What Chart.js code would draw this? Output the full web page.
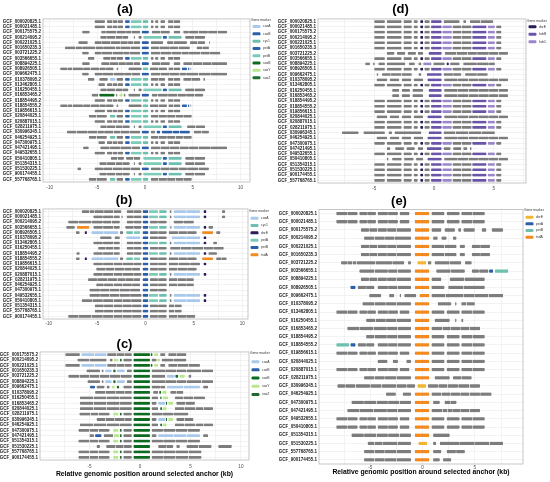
<!DOCTYPE html>
<html>
<head>
<meta charset="utf-8">
<script src="https://cdn.jsdelivr.net/npm/chart.js@4.4.1/dist/chart.umd.min.js"></script>
<style>
html,body{margin:0;padding:0;background:#fff;}
#wrap{position:relative;width:550px;height:482px;overflow:hidden;}
.pan{position:absolute;}
</style>
</head>
<body>
<div id="wrap">
  <div class="pan" style="left:0;top:0;width:275px;height:193px"><canvas id="chA"></canvas></div>
  <div class="pan" style="left:0;top:193px;width:275px;height:134px"><canvas id="chB"></canvas></div>
  <div class="pan" style="left:0;top:330px;width:275px;height:152px"><canvas id="chC"></canvas></div>
  <div class="pan" style="left:275px;top:0;width:275px;height:193px"><canvas id="chD"></canvas></div>
  <div class="pan" style="left:275px;top:193px;width:275px;height:289px"><canvas id="chE"></canvas></div>
</div>
<script>
// genomes (rows) of each panel
const aLabels = ['GCF_000020825.1','GCF_000021485.1','GCF_000175575.2','GCF_000214095.2','GCF_000221025.1','GCF_001650235.3','GCF_003721225.2','GCF_003566655.1','GCF_008894225.1','GCF_008926505.1','GCF_009662475.1','GCF_010378095.2','GCF_013462805.1','GCF_016250455.1','GCF_016853465.2','GCF_018854495.2','GCF_018854555.2','GCF_019856615.1','GCF_020844025.1','GCF_020887015.1','GCF_028211975.1','GCF_030996345.1','GCF_046254925.1','GCF_047300975.1','GCF_047421495.1','GCF_049532655.1','GCF_050410805.1','GCF_051354315.1','GCF_051530225.1','GCF_900174455.1','GCF_557768765.1'];
const bLabels = ['GCF_000020825.1','GCF_000021485.1','GCF_000214095.2','GCF_003566655.1','GCF_008926505.1','GCF_010378095.2','GCF_013462805.1','GCF_016250455.1','GCF_018854495.2','GCF_018854555.2','GCF_019856615.1','GCF_020844025.1','GCF_020887015.1','GCF_028211975.1','GCF_046254925.1','GCF_047300975.1','GCF_049532655.1','GCF_050410805.1','GCF_051354315.1','GCF_557768765.1','GCF_900174455.1'];
const cLabels = ['GCF_000175575.2','GCF_000214095.2','GCF_000221025.1','GCF_001650235.3','GCF_003721225.2','GCF_008894225.1','GCF_009662475.1','GCF_010378095.2','GCF_016250455.1','GCF_016853465.2','GCF_020844025.1','GCF_028211975.1','GCF_030996345.1','GCF_046254925.1','GCF_047300975.1','GCF_047421495.1','GCF_051354315.1','GCF_051530225.1','GCF_557768765.1','GCF_900174455.1'];
const dLabels = aLabels.slice();
const eLabels = ['GCF_000020825.1','GCF_000021485.1','GCF_000175575.2','GCF_000214095.2','GCF_000221025.1','GCF_001650235.3','GCF_003721225.2','GCF_003566655.1','GCF_008894225.1','GCF_008926505.1','GCF_009662475.1','GCF_010378095.2','GCF_013462805.1','GCF_016250455.1','GCF_016853465.2','GCF_018854495.2','GCF_018854555.2','GCF_019856615.1','GCF_020844025.1','GCF_020887015.1','GCF_028211975.1','GCF_030996345.1','GCF_046254925.1','GCF_047300975.1','GCF_047421495.1','GCF_049532655.1','GCF_050410805.1','GCF_051354315.1','GCF_051530225.1','GCF_557768765.1','GCF_900174455.1'];

// gene markers per panel (index 0 = unmarked gene)
const aTypes = ['other','coxA','coxB','cyc1','petA','petB','soxB','soxY','soxZ'];
const bTypes = ['other','coxA','cyc1','dsrE','petA','petB','tsdA'];
const cTypes = ['other','coxA','coxB','soxB','soxY','soxZ'];
const dTypes = ['other','dsrE','hdrB','hdrC'];
const eTypes = ['other','dsrE','petA','petB','tsdA'];

// tick positions (kb)
const abTicks = [-10,-7.5,-5,-2.5,0,2.5,5,7.5,10];
const cTicks = [-7.5,-5,-2.5,0,2.5,5,7.5,10];
const deTicks = [-7.5,-5,-2.5,0,2.5,5,7.5];

// gene runs: [marker, boundary0, boundary1, ...] in kb, consecutive genes between boundaries
const rA1 = [[0,-5.3,-4.2],[0,-4.0,-3.4,-2.9,-2.3],[4,-2.1,-1.6],[5,-1.5,-0.35],[3,-0.25,0.35],[0,0.6,0.9],[0,1.05,1.4],[0,1.6,2.1],[0,2.4,3.0,3.7]];
const rA4 = [[0,-4.7,-4.0,-3.1,-2.4,-1.75],[0,-1.2,-1.05],[0,-0.7,-0.35],[5,-0.2,1.75],[4,1.85,2.3],[3,2.45,3.85],[0,4.2,5.2,6.3]];
const rA10 = [[0,-8.9,-8.1,-7.6,-6.5,-5.7,-4.8,-4.1,-3.3],[0,-3.0,-2.8],[0,-1.75,-0.35],[3,-0.25,0.35],[0,0.5,1.4,2.3],[0,2.45,3.0,3.7],[4,3.85,4.4],[4,4.5,4.65],[0,4.75,4.85]];
const rA13 = [[0,-4.9,-4.2],[0,-4.0,-3.4,-2.9,-2.3],[4,-2.1,-1.6],[5,-1.5,-0.35],[3,-0.25,0.35],[0,0.6,0.9],[0,1.05,1.4],[0,1.6,2.1],[0,2.4,3.0,3.7]];
const rA19 = [[0,-5.9,-5.1,-4.0],[3,-3.7,-3.1],[0,-3.0,-2.3],[4,-2.1,-1.6],[5,-1.5,-0.35],[3,-0.25,0.35],[0,0.6,1.4,2.3,3.2,4.0,4.9]];
const rA28 = [[0,-4.8,-4.0,-3.1,-2.4,-1.6],[0,-1.2,-1.05],[0,-0.7,-0.35],[5,-0.2,1.75],[4,1.85,2.3],[3,2.45,3.85],[0,4.2,5.2,6.3]];
const aGenes = [
  rA1, rA1,
  [[0,-6.6,-5.8],[0,-4.6,-4.1,-3.0,-2.0,-1.4,-0.5],[2,-0.35,0.4],[0,0.7,1.6,2.6],[0,3.0,3.7],[0,4.0,4.6,5.6,6.6,7.6,8.6]],
  rA4,
  [[0,-7.0,-6.0],[0,-5.3,-4.6,-3.6,-2.6,-1.8,-1.2,-0.5],[2,-0.35,0.4],[0,0.6,1.9],[0,2.3,3.0,4.4],[0,4.7,5.5,6.3],[0,6.7,6.8]],
  [[0,-8.4,-7.3,-6.6,-5.2,-4.4,-3.1,-2.6,-1.5,-0.5],[2,-0.35,0.4],[0,0.6,1.5,2.6,3.5,4.7],[0,5.4,6.0,6.7]],
  [[0,-6.6,-5.9],[0,-5.3,-4.6,-3.4,-2.3,-1.6,-0.5],[2,-0.35,0.4],[0,0.6,1.6,2.8,3.8,4.6,5.8,6.8,7.9]],
  [[0,-6.0,-5.3],[0,-4.4,-3.6,-3.0,-2.3],[4,-2.1,-1.6],[5,-1.5,-0.35],[3,-0.25,0.35],[0,0.6,0.9],[0,1.05,1.4],[0,1.6,2.1],[0,2.4,3.0,3.7]],
  [[0,-6.6,-5.8],[0,-4.6,-3.7,-2.8,-2.0,-1.2,-0.5],[2,-0.35,0.4],[0,0.7,1.6,2.6],[0,3.0,3.7],[0,4.0,5.0,6.0,7.0,8.6]],
  rA10,
  [[0,-6.6,-5.9],[0,-5.3,-4.5,-3.3,-2.2,-1.4,-0.5],[2,-0.35,0.4],[0,0.6,1.6,2.6,3.6,4.3,5.6,6.9,8.6]],
  [[0,-6.0,-5.3],[0,-4.8,-3.9],[1,-3.7,-3.1],[0,-3.0,-2.3],[4,-2.1,-1.6],[5,-1.5,-0.35],[3,-0.25,0.35],[0,0.6,1.4,2.1],[0,2.4,3.0,3.7],[0,4.0,4.9,5.8],[0,6.1,6.3]],
  rA13,
  rA4,
  [[0,-5.6,-4.9],[6,-4.8,-3.2],[0,-3.05,-2.9],[7,-2.7,-2.35],[0,-2.25,-2.05],[0,-1.75,-0.5],[2,-0.35,0.4],[0,0.7,1.3,2.4,3.4,4.3,5.2,6.1]],
  rA1,
  rA10,
  rA1,
  rA19,
  rA1,
  [[0,-4.7,-4.0,-3.1,-2.4,-1.6],[0,-1.2,-1.05],[0,-0.7,-0.35],[5,-0.2,1.75],[4,1.85,2.3],[3,2.45,3.85],[0,4.4,5.3,6.3]],
  [[0,-8.2,-7.2,-6.0,-5.0,-4.3,-3.3,-2.6,-1.6,-0.5],[2,-0.35,0.4],[0,0.6,1.05],[2,1.2,1.6],[2,1.75,2.9,3.6,4.7],[0,5.1,5.9,6.7]],
  rA19,
  rA13,
  [[0,-6.5,-5.9],[0,-4.7,-3.7,-2.6,-1.4,-0.5],[2,-0.35,0.4],[0,0.6,1.6,2.6,3.6,4.6,5.6,6.9,8.6]],
  rA1,
  [[0,-3.6,-2.9,-2.2],[0,-2.0,-1.2,-0.5],[5,-0.2,1.75],[4,1.85,2.3],[3,2.45,3.85],[0,4.2,5.2,6.3]],
  rA28,
  [[0,-7.1,-6.7],[0,-5.3,-4.4,-3.4,-2.4,-1.5,-0.5],[2,-0.35,0.4],[0,0.6,1.6,2.6,3.5,4.4,5.6,6.7]],
  rA28,
  rA19
];

const rB2 = [[0,-5.4,-4.4,-3.3,-2.65],[0,-2.5,-2.35],[0,-1.95,-1.2,-0.4],[5,-0.3,0.3],[4,0.35,1.3],[2,1.4,2.2],[0,2.5,2.7],[1,2.9,4.2,5.65],[3,6.0,6.3],[0,7.9,8.25]];
const rB5 = [[0,-7.2,-6.8],[3,-6.3,-6.05],[1,-5.6,-4.3,-2.8],[0,-2.65,-2.3],[2,-2.0,-1.3],[4,-1.2,-0.55],[5,-0.3,0.3],[0,0.45,1.3,2.2],[0,2.4,3.4,4.3,5.3],[6,5.85,7.0],[0,7.3,7.75]];
const rB19 = [[0,-5.25,-4.3,-3.3,-2.4,-1.4,-0.4],[5,-0.3,0.3],[0,0.45,1.3,2.2],[0,2.4,3.0,3.75]];
const bGenes = [
  [[0,-6.6,-5.8,-5.3,-4.3,-3.3,-2.5],[0,-1.95,-1.2,-0.4],[5,-0.3,0.3],[4,0.35,1.3],[2,1.4,2.2],[0,2.5,2.7],[1,2.9,4.2,5.65],[3,6.0,6.3],[0,7.9,8.25]],
  rB2,
  [[0,-8.0,-6.9,-5.6,-4.4,-3.5,-2.65],[0,-1.95,-1.2,-0.4],[5,-0.3,0.3],[0,0.45,1.3,2.2],[0,2.9,3.9,5.0]],
  [[0,-8.2,-7.3],[6,-7.1,-5.8],[0,-5.4,-4.4,-3.3,-2.65],[0,-2.1,-1.2,-0.4],[5,-0.3,0.3],[4,0.35,1.3],[2,1.4,2.2],[0,2.55,2.7],[1,2.9,4.2,5.65],[3,6.0,6.3],[0,6.5,7.0]],
  rB5,
  [[0,-4.7,-3.5],[0,-3.2,-2.65],[1,-2.0,-0.55],[5,-0.3,0.3],[0,0.45,1.3,2.2],[1,2.7,4.2,5.65],[3,6.0,6.3]],
  [[0,-5.4,-4.4,-3.3,-2.65],[0,-1.95,-1.2,-0.4],[5,-0.3,0.3],[4,0.35,1.3],[2,1.4,2.2],[0,2.5,2.7],[1,2.9,4.2,5.65],[3,6.0,6.3],[0,7.0,7.4]],
  [[0,-4.9,-4.1,-3.3,-2.65],[0,-1.95,-1.2,-0.4],[5,-0.3,0.3],[0,0.45,1.3,2.2],[0,2.55,3.6,4.8,6.0,7.0,8.1]],
  [[0,-7.15,-6.8],[0,-5.4,-4.4,-3.3,-2.65],[0,-1.95,-1.2,-0.4],[5,-0.3,0.3],[4,0.35,1.3],[2,1.4,2.2],[0,2.5,2.7],[1,2.9,4.2,5.65],[3,6.0,6.3],[0,6.5,7.4]],
  [[0,-7.2,-6.8],[3,-6.3,-6.05],[1,-5.6,-4.3,-2.8],[0,-2.65,-2.3],[2,-2.0,-1.3],[4,-1.2,-0.55],[5,-0.3,0.3],[0,0.45,1.3,2.2],[0,2.4,3.4,4.3,5.3],[6,5.85,7.0],[0,7.3,7.9,8.4]],
  [[0,-5.4,-4.4,-3.3,-2.4,-1.2,-0.4],[5,-0.3,0.3],[0,0.45,1.3,2.2],[0,2.4,3.4,4.6,5.65],[3,6.0,6.3]],
  [[0,-5.1,-4.1,-3.2,-2.2,-1.4,-0.55],[5,-0.3,0.3],[0,0.45,1.3,2.2],[0,2.4,3.3,4.3,5.3]],
  [[0,-5.4,-4.4,-3.3,-2.4,-1.2,-0.4],[5,-0.3,0.3],[4,0.35,1.3],[2,1.4,2.2],[0,2.5,2.7],[1,2.9,4.2,5.65],[3,6.0,6.3]],
  [[0,-5.95,-5.0,-3.9,-2.9,-2.1,-1.2,-0.55],[5,-0.3,0.3],[0,0.45,1.3,2.2],[0,2.4,3.3,4.2,5.0]],
  [[0,-5.1,-4.3,-3.3,-2.4,-1.4,-0.55],[5,-0.3,0.3],[0,0.45,1.3,2.2],[0,2.4,3.3,4.2,5.0]],
  [[0,-5.8,-4.7,-3.7,-2.7,-1.6,-0.55],[5,-0.3,0.3],[0,0.45,1.3,2.2]],
  [[0,-5.8,-4.7,-3.7,-2.7,-1.6,-0.4],[5,-0.3,0.3],[4,0.35,1.3],[2,1.4,2.2],[0,2.5,2.7],[1,2.9,4.2,5.65],[3,6.0,6.3]],
  [[0,-6.6,-5.5,-4.4,-3.3,-2.4,-1.5,-0.4],[5,-0.3,0.3],[4,0.35,1.3],[2,1.4,2.2],[0,2.5,2.7],[1,2.9,4.2,5.65],[3,6.0,6.3]],
  rB19,
  rB19,
  [[0,-8.0,-6.9,-5.6,-4.4,-3.3,-2.4,-1.4,-0.4],[5,-0.3,0.3],[0,0.45,1.3,2.2],[0,2.4,3.3,4.2,5.15]]
];

const rC11 = [[0,-5.95,-4.6,-3.3,-2.0,-0.8],[3,-0.65,1.0],[0,1.15,1.8],[5,2.0,2.2],[4,2.25,2.65],[0,3.45,4.4,5.5,6.3,7.25]];
const rC15 = [[0,-6.1,-5.0,-4.1,-3.0],[4,-2.65,-2.15],[5,-2.0,-1.8],[0,-1.65,-0.8],[3,-0.65,1.0],[0,1.15,2.3,3.5,4.7,5.95]];
const rC19 = [[0,-6.1,-5.0,-4.1,-3.0],[4,-2.65,-2.15],[5,-2.0,-1.8],[0,-1.65,-0.8],[3,-0.65,1.0],[0,1.15,2.3,3.5,4.8,6.1]];
const cGenes = [
  [[0,-7.4,-5.95],[1,-5.8,-4.5,-3.3],[0,-3.25,-2.3,-1.5,-0.8],[3,-0.65,1.0],[5,1.05,1.25],[4,1.4,1.8],[0,2.0,2.5],[0,2.8,3.6,4.6]],
  [[0,-6.2,-5.0,-3.3],[0,-3.0,-2.7],[4,-2.6,-2.15],[5,-2.0,-1.8],[0,-1.65,-0.8],[3,-0.65,1.0],[0,1.15,1.65],[4,1.7,2.0],[0,2.15,3.3,4.6]],
  [[0,-7.4,-5.95],[1,-5.8,-4.5,-3.3],[0,-3.25,-2.3,-1.5,-0.8],[3,-0.65,1.0],[5,1.05,1.25],[4,1.4,1.8],[0,2.0,2.5],[0,2.8,3.7,4.8,5.95]],
  [[0,-5.3,-3.95],[0,-3.8,-3.6],[1,-3.45,-2.8],[5,-2.65,-2.4],[1,-2.3,-1.5],[0,-1.3,-0.8],[3,-0.65,1.0],[0,1.15,2.5,3.6,4.6,6.1,7.25]],
  [[0,-7.1,-6.0,-5.0,-4.0,-3.0,-1.9,-0.8],[3,-0.65,1.0],[0,1.15,2.5],[1,2.65,3.45],[5,3.5,3.8],[4,3.9,4.45],[0,4.8,5.1]],
  [[0,-5.2,-3.95],[0,-3.8,-3.6],[1,-3.45,-2.8],[5,-2.65,-2.4],[1,-2.3,-1.5],[0,-1.3,-0.8],[3,-0.65,1.0],[0,1.15,2.5,3.6,4.6,6.1,7.25]],
  [[2,-4.95,-4.45],[0,-4.3,-3.5],[0,-3.3,-3.0],[4,-2.8,-2.5],[5,-2.3,-2.05],[0,-1.65,-0.8],[3,-0.65,1.0],[0,1.15,2.0,2.5],[1,2.65,4.3,5.95],[0,6.25,6.75]],
  [[0,-4.45,-3.4,-2.4,-1.5,-0.8],[3,-0.65,1.0],[0,1.3,1.8],[5,1.9,2.1],[4,2.2,2.65],[0,3.0,3.6,4.3]],
  [[0,-5.95,-4.6,-3.3,-2.0,-0.8],[3,-0.65,1.0],[0,1.15,1.8],[5,2.0,2.15],[4,2.25,2.8],[0,3.45,4.3,5.3,6.45]],
  [[0,-5.95,-4.6,-3.3,-2.0,-0.8],[3,-0.65,1.0],[0,1.15,1.65],[1,1.8,2.5],[5,2.55,2.7],[4,2.8,3.3],[0,3.6,4.5,5.45]],
  rC11,
  [[0,-6.0,-4.9,-4.1,-3.0],[4,-2.65,-2.15],[5,-2.0,-1.8],[0,-1.65,-0.8],[3,-0.65,1.0],[0,1.15,2.2,3.3,4.8]],
  [[0,-4.3,-3.4,-2.5,-1.5,-0.8],[3,-0.65,1.0],[0,1.15,1.65],[1,1.8,2.5],[5,2.55,2.7],[4,2.8,3.3],[0,3.6,4.4,5.3]],
  rC11,
  rC15,
  [[0,-5.0,-4.55],[2,-4.45,-3.8],[0,-3.6,-2.65],[4,-2.6,-2.05],[5,-2.0,-1.8],[0,-1.65,-0.8],[3,-0.65,1.0],[0,1.15,1.65],[1,1.8,3.3,4.6,5.95],[0,6.25,6.75]],
  rC15,
  [[0,-4.3,-3.95],[0,-3.35,-2.4,-1.6,-0.8],[3,-0.65,1.0],[0,1.8,2.6,3.3],[0,3.6,3.95],[0,4.6,5.8,7.1],[0,7.75,9.1]],
  rC19,
  rC19
];

const rDs = [[0,-5.0,-4.1],[0,-3.95,-2.7],[0,-2.55,-1.85],[0,-1.7,-1.35],[1,-1.15,-0.9],[0,-0.8,-0.35],[2,-0.25,0.65],[3,0.7,1.5],[0,1.55,2.3,3.15],[2,3.2,4.4],[3,4.5,5.1],[0,5.2,5.65]];
const rD12 = [[0,-4.8,-3.9],[0,-3.7,-2.9],[0,-2.7,-1.9],[0,-1.7,-0.9],[2,-0.55,0.65],[0,0.85,2.0,2.9,3.7,4.6,5.4,6.2]];
const rD14 = [[0,-3.5,-2.9],[0,-2.7,-2.0],[0,-1.8,-0.9],[2,-0.45,0.65],[0,0.85,2.0,2.9,3.7,4.6,5.4,6.2]];
const dGenes = [
  [[0,-5.0,-4.1],[0,-3.95,-2.7],[0,-2.55,-1.85],[0,-1.7,-1.35],[1,-1.15,-0.9],[0,-0.8,-0.35],[2,-0.25,0.65],[0,0.8,2.15],[0,2.45,2.7],[0,3.0,3.9,4.95]],
  rDs, rDs, rDs, rDs, rDs,
  [[0,-3.95,-3.3],[0,-3.1,-2.4],[0,-2.2,-1.5],[0,-1.35,-0.9],[2,-0.45,0.65],[0,0.9,1.9,2.8,3.6,4.6,5.4,6.2]],
  rDs,
  [[0,-5.75,-5.35],[0,-5.1,-4.95],[0,-4.65,-4.1],[0,-3.95,-2.4],[0,-2.1,-1.6],[0,-1.3,-1.05],[3,-0.9,-0.2],[0,-0.05,0.9],[1,1.05,1.25],[0,1.35,2.15],[0,2.45,3.6,4.6,5.1]],
  rDs,
  [[0,-4.8,-4.65],[0,-4.35,-3.6,-2.7,-1.85],[0,-1.3,-1.05],[2,-0.6,0.65],[0,0.8,1.6,2.3],[0,2.6,3.6,4.5]],
  rD12,
  rDs,
  rD14, rD14,
  rDs, rDs, rDs,
  rD12,
  rDs, rDs,
  [[0,-7.7,-6.3],[0,-5.9,-4.1],[0,-3.8,-3.5],[0,-3.3,-1.05],[2,-0.45,0.65],[0,0.8,1.8,2.9,4.0,5.1]],
  rD12,
  rDs,
  [[0,-3.95,-3.65],[0,-3.25,-2.5],[0,-2.3,-1.6],[0,-1.35,-0.9],[2,-0.6,0.65],[0,0.8,1.4],[0,1.6,2.3],[0,2.45,2.8],[0,3.0,3.15]],
  rDs,
  [[0,-3.95,-3.8],[0,-3.5,-2.7],[0,-2.5,-1.7],[0,-1.5,-0.9],[2,-0.55,0.65],[0,0.85,2.0,2.9,3.7,4.6,5.4,6.2]],
  rDs, rDs, rDs, rDs
];

const rEl = [[0,-8.25,-7.2,-6.2],[0,-6.05,-5.3,-4.45],[0,-4.3,-3.3,-2.35],[0,-2.2,-1.25],[4,-0.75,0.65],[0,0.85,2.1],[0,2.3,3.55],[0,3.7,4.8,5.95]];
const rE5 = [[0,-5.9,-5.1,-4.3,-3.4,-2.5,-1.1],[4,-0.75,0.65],[0,0.85,2.1,3.25],[0,3.55,4.05],[0,4.7,5.5,6.45]];
const eGenes = [
  rEl, rEl,
  [[0,-5.9,-5.1,-4.3,-3.4,-2.5,-1.1],[4,-0.75,0.65],[0,0.85,1.8],[0,2.1,3.1],[0,3.4,3.7],[0,3.9,5.0],[0,5.65,6.1],[0,6.6,7.7]],
  [[0,-5.6,-4.6,-3.6,-2.7,-1.1],[4,-0.75,0.65],[0,1.0,1.45],[0,1.8,2.3],[0,2.9,3.25]],
  rE5, rE5,
  [[0,-7.8,-7.2,-6.7,-6.3,-4.5,-2.9,-1.75],[0,-1.4,-1.1],[1,-0.5,0.35],[0,0.5,0.85],[0,1.15,2.6,3.7],[0,4.05,4.7]],
  [[0,-6.05,-4.6,-3.3,-2.4,-1.1],[4,-0.75,0.65],[0,1.3,2.7,4.05],[0,4.7,5.4,6.3],[2,6.35,6.75],[3,6.9,8.2]],
  [[0,-5.9,-5.1,-4.3,-3.4,-2.5,-1.1],[4,-0.75,0.65],[0,0.85,1.8],[0,2.6,4.0,5.95]],
  [[2,-6.9,-6.4],[0,-6.2,-5.4,-4.6],[0,-4.3,-3.3,-2.4,-1.1],[4,-0.75,0.65],[0,0.85,2.1],[0,2.45,3.9,5.95]],
  [[0,-5.1,-3.95],[0,-3.2,-2.7],[0,-2.2,-2.05],[0,-1.75,-0.6],[4,-0.3,0.65],[0,0.85,2.2,3.9,5.0,6.3,7.7]],
  [[0,-5.75,-4.6,-3.5,-2.5,-1.1],[4,-0.75,0.65],[0,1.45,2.75],[0,3.1,3.25],[0,3.7,4.2,5.0]],
  rEl,
  [[0,-5.4,-4.5,-3.5,-2.5,-1.1],[4,-0.75,0.65],[0,1.15,2.6],[0,3.1,3.25],[0,3.7,3.9]],
  [[0,-7.2,-6.0,-4.7,-3.4,-2.4,-1.1],[4,-0.75,0.65],[0,0.85,1.9,2.7,3.6,4.5,5.5]],
  [[0,-5.4,-4.6,-3.4,-2.4,-1.1],[4,-0.75,0.65],[0,0.85,2.1],[0,2.3,3.55],[0,3.7,4.8,5.95]],
  [[3,-8.25,-7.0],[2,-6.9,-6.4],[0,-6.2,-5.4,-4.6],[0,-4.3,-3.3,-2.4,-1.1],[4,-0.75,0.65],[0,0.85,2.1],[0,2.3,3.55],[0,3.7,4.8,5.95]],
  rEl,
  [[0,-4.3,-3.35],[0,-2.85,-2.35],[0,-1.55,-1.1],[4,-0.75,0.65],[0,0.85,2.1],[0,2.3,3.55],[0,3.7,4.8,5.95]],
  rEl,
  [[0,-5.6,-4.6,-3.6,-2.5,-1.1],[4,-0.75,0.65],[0,1.15,2.6],[0,2.9,3.7,4.7]],
  [[0,-8.15,-7.4,-6.4,-5.0,-3.9,-2.5,-1.5,-0.7],[1,-0.5,0.35],[0,0.5,1.5,2.4,3.4,4.5,5.5]],
  [[0,-3.5,-2.55],[0,-1.9,-1.1],[4,-0.75,0.65],[0,0.85,1.8,2.7,3.6,4.5,5.5,6.6]],
  [[0,-6.8,-5.6,-4.4,-3.3,-2.2,-1.1],[4,-0.75,0.65],[0,1.0,1.65],[0,2.1,2.7,3.25]],
  [[0,-7.2,-6.0,-4.7,-3.4,-2.4,-1.1],[4,-0.75,0.65],[0,0.85,1.9,2.4,2.9,3.6,4.5,5.5]],
  rEl, rEl,
  [[0,-6.8,-5.6,-4.4,-3.3,-2.2,-1.1],[4,-0.75,0.65],[0,1.0,2.6]],
  [[0,-5.25,-4.6,-3.8,-2.4,-1.1],[1,-0.4,0.45],[0,1.0,1.3],[0,1.65,3.5,5.0,6.4,7.7]],
  [[0,-5.6,-4.6,-3.6,-2.5,-1.1],[4,-0.75,0.65],[0,1.0,1.8],[0,2.3,3.2,4.05]],
  [[0,-5.6,-4.6,-3.6,-2.5,-1.1],[4,-0.75,0.65],[0,1.0,1.65],[0,1.95,2.75]]
];

// colours (styles kept apart from data)
const GRAY = '#7d7d7d';
const aColors = [GRAY,'#a9c9ec','#2b5fa8','#6cc0ad','#2e63ad','#7ccbb9','#0d6b1f','#b9e68c','#1e6b2e'];
const bColors = [GRAY,'#a9c9ec','#6cc0ad','#2b1c57','#7ccbb9','#2b5fa8','#f28a1f'];
const cColors = [GRAY,'#a9c9ec','#2b5fa8','#0d6b1f','#b9e68c','#1e6b2e'];
const dColors = [GRAY,'#2b1c57','#6a54a8','#9b86cc'];
const eColors = [GRAY,'#f2b533','#2b5fa8','#6cc0ad','#f28a1f'];

const FONT = '"Liberation Sans", Arial, sans-serif';
const AXIS_TITLE = 'Relative genomic position around selected anchor (kb)';

function buildSets(labels, genes, types, colors, thick) {
  const sets = types.map((t, i) => ({
    label: t,
    inLegend: i > 0,
    data: [],
    backgroundColor: colors[i],
    borderColor: '#ffffff',
    borderWidth: {left: 0.45, right: 0.45, top: 0, bottom: 0},
    borderSkipped: false,
    borderRadius: 1.1,
    barThickness: thick,
    grouped: false
  }));
  genes.forEach((row, r) => {
    row.forEach(run => {
      const t = run[0];
      for (let k = 1; k < run.length - 1; k++) {
        sets[t].data.push({y: labels[r], x: [run[k], run[k + 1]]});
      }
    });
  });
  return sets;
}

// panel border + "Gene marker" legend
const panelDecor = {
  id: 'panelDecor',
  afterDraw(chart, args, o) {
    const {ctx, chartArea: a} = chart;
    ctx.save();
    ctx.strokeStyle = '#b0b0b0';
    ctx.lineWidth = 0.7;
    ctx.strokeRect(a.left, a.top, a.right - a.left, a.bottom - a.top);
    const x = a.right + 1;
    ctx.textBaseline = 'middle';
    ctx.font = '3.4px ' + FONT;
    ctx.fillStyle = '#333';
    ctx.fillText('Gene marker', x, a.top + o.dy0);
    let y = a.top + o.dy1;
    chart.data.datasets.forEach(ds => {
      if (!ds.inLegend) return;
      ctx.fillStyle = ds.backgroundColor;
      ctx.beginPath();
      ctx.roundRect(x + 1.5, y - 1.5, 8, 3, 1.2);
      ctx.fill();
      ctx.fillStyle = '#333';
      ctx.fillText(ds.label, x + 12, y);
      y += o.step;
    });
    ctx.restore();
  }
};

function makePanel(id, p) {
  new Chart(document.getElementById(id), {
    type: 'bar',
    data: {labels: p.labels, datasets: buildSets(p.labels, p.genes, p.types, p.colors, p.thick)},
    plugins: [panelDecor],
    options: {
      indexAxis: 'y',
      responsive: true,
      maintainAspectRatio: false,
      animation: false,
      layout: {padding: {left: 0, right: p.padRight, top: 0, bottom: 0}},
      plugins: {
        legend: {display: false},
        tooltip: {enabled: false},
        title: {
          display: true, text: p.title, color: '#000',
          font: {family: FONT, size: 13, weight: 'bold', lineHeight: 1.15},
          padding: p.titlePad
        },
        panelDecor: p.legend
      },
      scales: {
        x: {
          type: 'linear', min: p.xMin, max: p.xMax,
          afterBuildTicks: s => { s.ticks = p.ticks.map(v => ({value: v})); },
          afterFit: s => { s.height = p.xHeight; },
          grid: {color: '#ebebeb', lineWidth: 0.6, drawTicks: false},
          border: {display: false},
          ticks: {
            autoSkip: false, maxRotation: 0, padding: p.tickPad, color: '#4d4d4d',
            font: {family: FONT, size: 4.6},
            callback: v => (v % 5 === 0 ? String(v) : '')
          },
          title: {
            display: !!p.axisTitle, text: AXIS_TITLE, color: '#000',
            font: {family: FONT, size: 6.8, weight: 'bold', lineHeight: 1.2},
            padding: {top: 0, bottom: p.axisTitlePad || 0}
          }
        },
        y: {
          type: 'category', offset: true,
          afterFit: s => { s.width = p.yWidth; },
          grid: {color: '#ebebeb', lineWidth: 0.6, offset: false, drawTicks: false},
          border: {display: false},
          ticks: {autoSkip: false, padding: 2, color: '#1a1a1a', font: {family: FONT, size: 4.5, weight: 'bold'}}
        }
      }
    }
  });
}

makePanel('chA', {labels: aLabels, genes: aGenes, types: aTypes, colors: aColors, thick: 2.7,
  title: '(a)', titlePad: {top: 2, bottom: 2}, xMin: -10.7, xMax: 11, ticks: abTicks,
  xHeight: 11, tickPad: 2.7, yWidth: 43, padRight: 25, legend: {dy0: 1.5, dy1: 7.6, step: 7.3}});
makePanel('chB', {labels: bLabels, genes: bGenes, types: bTypes, colors: bColors, thick: 2.7,
  title: '(b)', titlePad: {top: 0, bottom: 1}, xMin: -10.6, xMax: 10.6, ticks: abTicks,
  xHeight: 8, tickPad: 2, yWidth: 43, padRight: 27, legend: {dy0: 1.7, dy1: 9.3, step: 7.3}});
makePanel('chC', {labels: cLabels, genes: cGenes, types: cTypes, colors: cColors, thick: 2.8,
  title: '(c)', titlePad: {top: 6.5, bottom: 0.5}, xMin: -9.9, xMax: 10.8, ticks: cTicks,
  xHeight: 22, tickPad: 3.5, yWidth: 40, padRight: 26, axisTitle: true, axisTitlePad: 3.8,
  legend: {dy0: 1.2, dy1: 9.7, step: 8.2}});
makePanel('chD', {labels: dLabels, genes: dGenes, types: dTypes, colors: dColors, thick: 2.7,
  title: '(d)', titlePad: {top: 2, bottom: 2}, xMin: -9.7, xMax: 7.7, ticks: deTicks,
  xHeight: 10, tickPad: 3.3, yWidth: 43, padRight: 24, legend: {dy0: 1.7, dy1: 7.7, step: 7.5}});
makePanel('chE', {labels: eLabels, genes: eGenes, types: eTypes, colors: eColors, thick: 3.3,
  title: '(e)', titlePad: {top: 1, bottom: 0.5}, xMin: -9.9, xMax: 9.6, ticks: deTicks,
  xHeight: 18, tickPad: 0.8, yWidth: 44, padRight: 27, axisTitle: true, axisTitlePad: 5.8,
  legend: {dy0: 1, dy1: 7.7, step: 6.7}});
</script>
</body>
</html>
